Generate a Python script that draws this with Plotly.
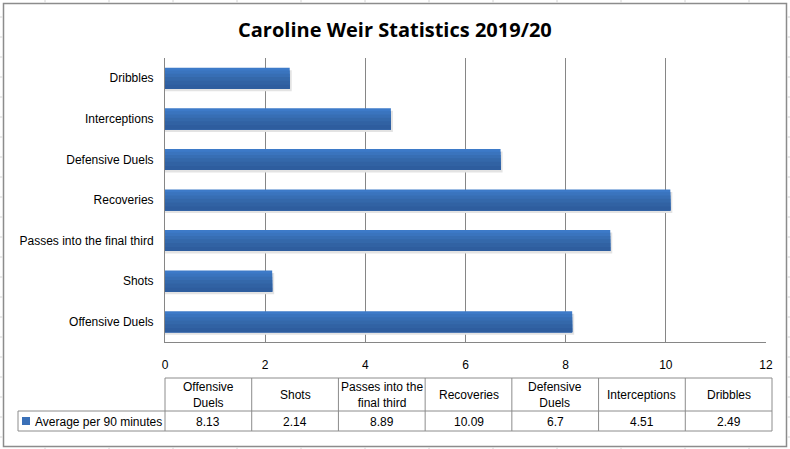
import plotly.graph_objects as go

categories = ["Offensive Duels", "Shots", "Passes into the final third",
              "Recoveries", "Defensive Duels", "Interceptions", "Dribbles"]
values = [8.13, 2.14, 8.89, 10.09, 6.7, 4.51, 2.49]
table_headers = ["Offensive<br>Duels", "Shots", "Passes into the<br>final third",
                 "Recoveries", "Defensive<br>Duels", "Interceptions", "Dribbles"]
value_labels = ["8.13", "2.14", "8.89", "10.09", "6.7", "4.51", "2.49"]
series_name = "Average per 90 minutes"
x_ticks = [0, 2, 4, 6, 8, 10, 12]

W, H = 790, 449
L, R, T, B = 165, 766, 58, 342
FONT = "Liberation Sans"
GRID = "#868686"
TB = "#8C8C8C"


def px(x):
    return (x - L) / (R - L)


def py(y):
    return (B - y) / (B - T)


fig = go.Figure()
# subtle shadow
fig.add_trace(go.Bar(y=categories, x=[v + 0.04 for v in values], orientation="h", width=0.52,
                     offset=-0.26 - 2.5 / 40.6, marker=dict(color="#E3E3E3", line=dict(width=0)),
                     hoverinfo="skip", showlegend=False))
# vertical gradient approximated with nested bands (top light -> bottom dark)
band_colors = ["#3D7AC8", "#3A74BE", "#376EB4", "#3468AA", "#3162A3", "#2E5D9E"]
band_widths = [0.52, 0.45, 0.37, 0.29, 0.20, 0.10]
for i, (bc, bw) in enumerate(zip(band_colors, band_widths)):
    fig.add_trace(go.Bar(y=categories, x=values, orientation="h", width=bw,
                         offset=-0.26, marker=dict(color=bc, line=dict(width=0)),
                         hoverinfo="skip" if i else None, showlegend=False))

shapes = []
# outer chart border
shapes.append(dict(type="rect", xref="paper", yref="paper",
                   x0=px(3.5), x1=px(786.5), y0=py(446.5), y1=py(3.5),
                   line=dict(color="#8C8C8C", width=1.5), layer="above"))
# spreadsheet gridlines outside the chart
for gx in range(45, 790, 64):
    shapes.append(dict(type="line", xref="paper", yref="paper", x0=px(gx), x1=px(gx),
                       y0=py(0), y1=py(2.5), line=dict(color="#D4D4D4", width=1)))
    shapes.append(dict(type="line", xref="paper", yref="paper", x0=px(gx), x1=px(gx),
                       y0=py(447.5), y1=py(449), line=dict(color="#D4D4D4", width=1)))
for gy in range(16, 449, 20):
    shapes.append(dict(type="line", xref="paper", yref="paper", x0=px(787.5), x1=px(790),
                       y0=py(gy + 1), y1=py(gy + 1), line=dict(color="#D4D4D4", width=1)))
    shapes.append(dict(type="line", xref="paper", yref="paper", x0=px(0), x1=px(2.5),
                       y0=py(gy + 1), y1=py(gy + 1), line=dict(color="#D4D4D4", width=1)))

# data table
n = len(categories)
tl, tr = 165, 772
cw = (tr - tl) / n
ty0, ty1, ty2 = 378, 411, 431
lx = 18
tline = dict(color=TB, width=1)
shapes.append(dict(type="line", xref="paper", yref="paper", x0=px(tl), x1=px(tr), y0=py(ty0), y1=py(ty0), line=tline))
shapes.append(dict(type="line", xref="paper", yref="paper", x0=px(lx), x1=px(tr), y0=py(ty1), y1=py(ty1), line=tline))
shapes.append(dict(type="line", xref="paper", yref="paper", x0=px(lx), x1=px(tr), y0=py(ty2), y1=py(ty2), line=tline))
shapes.append(dict(type="line", xref="paper", yref="paper", x0=px(lx), x1=px(lx), y0=py(ty2), y1=py(ty1), line=tline))
for i in range(n + 1):
    cx = tl + i * cw
    shapes.append(dict(type="line", xref="paper", yref="paper", x0=px(cx), x1=px(cx),
                       y0=py(ty2), y1=py(ty0), line=tline))
# legend key square
shapes.append(dict(type="rect", xref="paper", yref="paper", x0=px(22), x1=px(30),
                   y0=py(425), y1=py(417), fillcolor="#3A70B8", line=dict(width=0)))

annotations = []
annotations.append(dict(text="<b>Caroline Weir Statistics 2019/20</b>", xref="paper", yref="paper",
                        x=px(395), y=py(30), showarrow=False, xanchor="center", yanchor="middle",
                        font=dict(family="Open Sans", size=20, color="black")))
for i in range(n):
    cx = tl + (i + 0.5) * cw
    annotations.append(dict(text=table_headers[i], xref="paper", yref="paper", x=px(cx),
                            y=py((ty0 + ty1) / 2), showarrow=False, xanchor="center", yanchor="middle",
                            font=dict(family=FONT, size=12, color="black")))
    annotations.append(dict(text=value_labels[i], xref="paper", yref="paper", x=px(cx),
                            y=py((ty1 + ty2) / 2 + 0.5), showarrow=False, xanchor="center", yanchor="middle",
                            font=dict(family=FONT, size=12, color="black")))
annotations.append(dict(text=series_name, xref="paper", yref="paper", x=px(33),
                        y=py((ty1 + ty2) / 2 + 0.5), showarrow=False, xanchor="left", yanchor="middle",
                        font=dict(family=FONT, size=12, color="black")))

fig.update_layout(
    width=W, height=H,
    margin=dict(l=L, r=W - R, t=T, b=H - B, pad=0),
    paper_bgcolor="white", plot_bgcolor="white",
    barmode="overlay", bargap=0.48,
    showlegend=False,
    shapes=shapes, annotations=annotations,
    xaxis=dict(range=[0, 12], tickvals=x_ticks, showgrid=True, gridcolor=GRID, gridwidth=1,
               zeroline=False, showline=True, linecolor=GRID, linewidth=1,
               ticks="outside", ticklen=12, tickcolor="rgba(0,0,0,0)",
               tickfont=dict(family=FONT, size=12, color="black"), fixedrange=True),
    yaxis=dict(showgrid=False, zeroline=False, showline=True, linecolor=GRID, linewidth=1,
               ticks="outside", ticklen=8, tickcolor="rgba(0,0,0,0)",
               tickfont=dict(family=FONT, size=12, color="black"), fixedrange=True),
)

fig.write_html("out.html", config={"displayModeBar": False},
               post_script="document.body.style.margin='0';document.body.style.overflow='hidden';")
